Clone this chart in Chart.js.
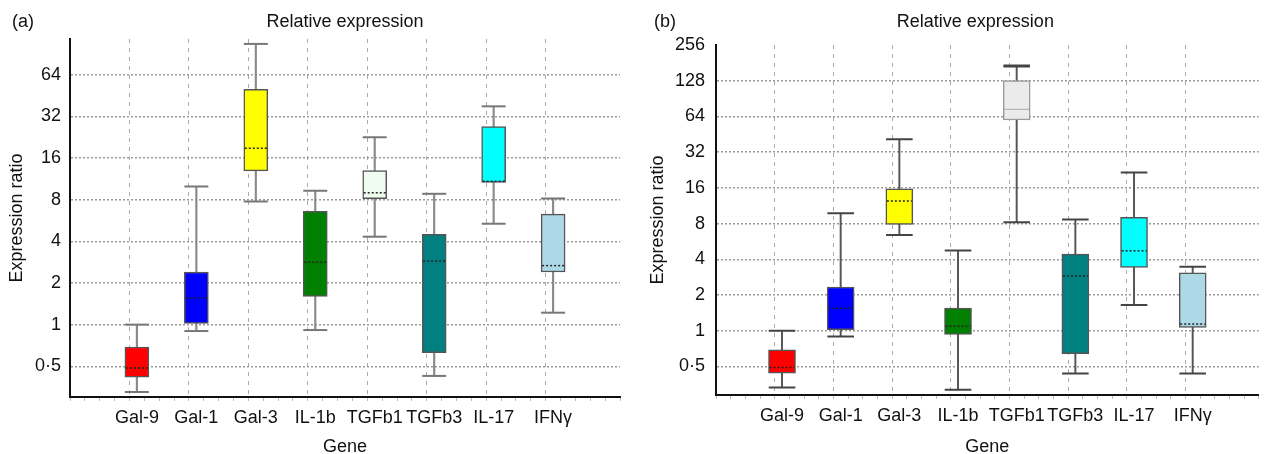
<!DOCTYPE html>
<html><head><meta charset="utf-8">
<script src="https://cdn.jsdelivr.net/npm/chart.js@4.4.1/dist/chart.umd.min.js"></script>
<style>
html,body{margin:0;padding:0;background:#fff;overflow:hidden;width:1268px;height:454px;position:relative;}
canvas{position:absolute;top:0;}
</style></head>
<body>
<canvas id="chartA" width="634" height="458" style="left:0"></canvas>
<canvas id="chartB" width="640" height="458" style="left:634px"></canvas>
<script>
// ---------- data ----------
const categories = ['Gal-9', 'Gal-1', 'Gal-3', 'IL-1b', 'TGFb1', 'TGFb3', 'IL-17', 'IFNγ'];

// Panel (a)
const A_whiskerLow  = [0.326, 0.899,  7.76, 0.914,  4.32, 0.426,  5.36, 1.22];
const A_q1          = [0.418, 1.02,  12.9,  1.60,   8.12, 0.628, 10.65, 2.40];
const A_median      = [0.486, 1.556, 18.8,  2.82,   8.97, 2.88,  10.85, 2.67];
const A_q3          = [0.689, 2.40,  50.2,  6.58,  13.0,  4.49,  27.0,  6.29];
const A_whiskerHigh = [1.0,   9.96, 106.8,  9.28,  22.6,  8.82,  37.8,  8.16];
const A_tickValues  = [0.5, 1, 2, 4, 8, 16, 32, 64];

// Panel (b)
const B_whiskerLow  = [0.333, 0.897,  6.41, 0.318,   8.2,  0.436, 1.65, 0.436];
const B_q1          = [0.44,  1.02,   7.89, 0.93,   59.7,  0.643, 3.42, 1.07];
const B_median      = [0.49,  1.55,  12.4,  1.09,   73.5,  2.90,  4.72, 1.14];
const B_q3          = [0.69,  2.34,  15.7,  1.55,  128.3,  4.43,  9.03, 3.08];
const B_whiskerHigh = [1.0,   9.77,  41.1,  4.76,  170.7,  8.68, 21.6,  3.46];
const B_tickValues  = [0.5, 1, 2, 4, 8, 16, 32, 64, 128, 256];

// ---------- styles ----------
const A_fill = ['#ff0000', '#0000ff', '#ffff00', '#008000', '#effcef', '#008080', '#00ffff', '#add8e6'];
const B_fill = ['#ff0000', '#0000ff', '#ffff00', '#008000', '#ebebeb', '#008080', '#00ffff', '#add8e6'];
const A_edge = ['#555', '#555', '#555', '#555', '#555', '#555', '#555', '#555'];
const B_edge = ['#555', '#555', '#555', '#555', '#9a9a9a', '#555', '#555', '#555'];
const A_medColor = ['#222', '#222', '#222', '#222', '#222', '#222', '#222', '#222'];
const B_medColor = ['#222', '#222', '#222', '#222', '#aaaaaa', '#222', '#222', '#222'];
const A_medDotted = [true, true, true, true, true, true, true, true];
const B_medDotted = [true, true, true, true, false, true, true, true];
const B_topCapWidth = [2, 2, 2, 2, 3, 2, 2, 2];

const FONT = "'Liberation Sans', Arial, Helvetica, sans-serif";
const TEXT = '#111';

const panelText = {
  id: 'panelText',
  afterDraw(chart, args, o) {
    const ctx = chart.ctx;
    ctx.save();
    ctx.fillStyle = TEXT;
    ctx.font = '18px ' + FONT;
    ctx.textBaseline = 'alphabetic';
    ctx.textAlign = 'left';
    ctx.fillText(o.label, o.labelX, o.baseY);
    ctx.textAlign = 'center';
    const ca = chart.chartArea;
    ctx.fillText(o.title, (ca.left + ca.right) / 2 + o.titleShift, o.baseY);
    ctx.restore();
  }
};

const medianLines = {
  id: 'medianLines',
  afterDatasetsDraw(chart, args, o) {
    const ctx = chart.ctx;
    const xs = chart.scales.x, ys = chart.scales.y;
    const boxMeta = chart.getDatasetMeta(0);
    ctx.save();
    o.values.forEach((v, i) => {
      const el = boxMeta.data[i];
      const half = el.width / 2 - 1;
      const x = xs.getPixelForValue(i + 1);
      const y = ys.getPixelForValue(v);
      ctx.beginPath();
      ctx.strokeStyle = o.colors[i];
      ctx.lineWidth = o.dotted[i] ? 1.5 : 1;
      ctx.setLineDash(o.dotted[i] ? [2, 2] : []);
      ctx.moveTo(x - half, y);
      ctx.lineTo(x + half, y);
      ctx.stroke();
    });
    ctx.restore();
  }
};

function makePanel(id, d) {
  const pts = (arr) => categories.map((c, i) => ({x: i + 1, y: arr[i]}));
  const ranges = (lo, hi) => categories.map((c, i) => ({x: i + 1, y: [lo[i], hi[i]]}));
  const isCat = (v) => Number.isInteger(v) && v >= 1 && v <= categories.length;
  return new Chart(document.getElementById(id), {
    type: 'bar',
    data: {
      datasets: [
        {
          type: 'bar', data: ranges(d.q1, d.q3), order: 0, grouped: false,
          backgroundColor: d.fill, borderColor: d.edge, borderWidth: 1.5, borderSkipped: false,
          barThickness: d.boxW
        },
        {
          type: 'line', data: pts(d.hi), order: 1, showLine: false,
          pointStyle: 'line', pointRadius: d.capR, pointHoverRadius: d.capR,
          pointBorderColor: d.capColor, pointBorderWidth: d.topCapWidth, pointBackgroundColor: d.capColor
        },
        {
          type: 'line', data: pts(d.lo), order: 1, showLine: false,
          pointStyle: 'line', pointRadius: d.capR, pointHoverRadius: d.capR,
          pointBorderColor: d.capColor, pointBorderWidth: 2, pointBackgroundColor: d.capColor
        },
        {
          type: 'bar', data: ranges(d.lo, d.hi), order: 2, grouped: false,
          backgroundColor: d.stemColor, borderWidth: 0,
          barThickness: d.stemW
        }
      ]
    },
    options: {
      responsive: false,
      animation: false,
      devicePixelRatio: 1,
      layout: {padding: d.padding},
      plugins: {
        legend: {display: false},
        tooltip: {enabled: false},
        title: {display: false},
        panelText: {label: d.label, labelX: d.labelX, title: 'Relative expression', titleShift: d.titleShift, baseY: 27},
        medianLines: {values: d.med, colors: d.medColor, dotted: d.medDotted}
      },
      scales: {
        x: {
          type: 'linear', min: 0, max: categories.length + 1,
          afterBuildTicks: (s) => {
            const t = [];
            for (let k = 0; k <= (categories.length + 1) * 4; k++) t.push({value: k / 4});
            s.ticks = t;
          },
          afterFit: (s) => { s.height = d.xHeight; },
          ticks: {
            autoSkip: false, maxRotation: 0, minRotation: 0, padding: 6,
            color: TEXT, font: {family: FONT, size: 18},
            callback: (v) => isCat(v) ? categories[v - 1] : ''
          },
          grid: {
            drawOnChartArea: true, drawTicks: true, tickLength: 4, lineWidth: 1,
            color: (c) => (c.tick && isCat(c.tick.value)) ? '#aaaaaa' : 'rgba(0,0,0,0)',
            tickColor: '#bdbdbd', tickWidth: 1
          },
          border: {display: true, color: '#111', width: 2, dash: [4, 5]},
          title: {display: true, text: 'Gene', color: TEXT, font: {family: FONT, size: 18}, padding: {top: 0, bottom: 0}}
        },
        y: {
          type: 'logarithmic', min: d.yMin, max: d.yMax,
          afterBuildTicks: (s) => { s.ticks = d.ticks.map((v) => ({value: v})); },
          afterFit: (s) => { s.width = d.yWidth; },
          ticks: {
            padding: d.yPad, color: TEXT, font: {family: FONT, size: 18},
            callback: (v) => v < 1 ? String(v).replace('.', '·') : String(v)
          },
          grid: {
            drawTicks: false, lineWidth: 1.5,
            color: (c) => (c.tick && c.tick.value >= d.yMax * 0.999) ? 'rgba(0,0,0,0)' : '#9a9a9a'
          },
          border: {display: true, color: '#111', width: 2, dash: [2, 2]},
          title: {display: true, text: 'Expression ratio', color: TEXT, font: {family: FONT, size: 18}, padding: {top: d.yTitlePad, bottom: 0}}
        }
      }
    },
    plugins: [panelText, medianLines]
  });
}

makePanel('chartA', {
  lo: A_whiskerLow, q1: A_q1, med: A_median, q3: A_q3, hi: A_whiskerHigh, ticks: A_tickValues,
  fill: A_fill, edge: A_edge, medColor: A_medColor, medDotted: A_medDotted,
  capColor: '#777777', stemColor: '#8a8a8a', topCapWidth: 2,
  boxW: 24, stemW: 1.5, capR: 12,
  yMin: 0.3036, yMax: 115.9, yWidth: 70, yPad: 9, xHeight: 61, yTitlePad: 6,
  padding: {top: 39, right: 14, left: 0, bottom: 0},
  label: '(a)', labelX: 12, titleShift: 0
});

makePanel('chartB', {
  lo: B_whiskerLow, q1: B_q1, med: B_median, q3: B_q3, hi: B_whiskerHigh, ticks: B_tickValues,
  fill: B_fill, edge: B_edge, medColor: B_medColor, medDotted: B_medDotted,
  capColor: '#444444', stemColor: '#555555', topCapWidth: B_topCapWidth,
  boxW: 27, stemW: 1.3, capR: 13.3,
  yMin: 0.2877, yMax: 256, yWidth: 82, yPad: 11, xHeight: 63, yTitlePad: 13,
  padding: {top: 45, right: 4, left: 0, bottom: 0},
  label: '(b)', labelX: 20, titleShift: -12
});
</script>
</body></html>
